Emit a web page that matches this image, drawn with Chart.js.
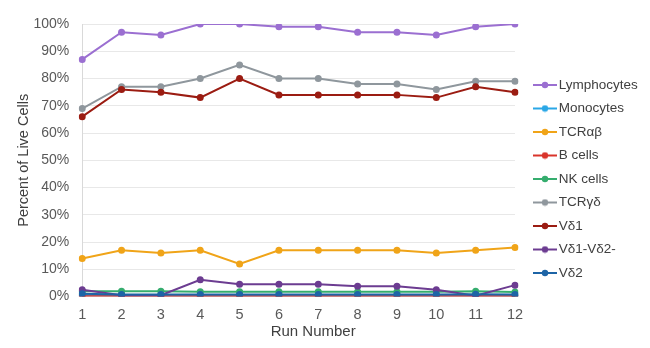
<!DOCTYPE html>
<html>
<head>
<meta charset="utf-8">
<script src="https://cdn.jsdelivr.net/npm/chart.js@4/dist/chart.umd.min.js"></script>
<style>
html,body{margin:0;padding:0;background:#fff;}
#wrap{width:650px;height:348px;position:relative;}
</style>
</head>
<body>
<div id="wrap"><canvas id="c" width="650" height="348"></canvas></div>
<script>
const runs = ['1','2','3','4','5','6','7','8','9','10','11','12'];
const lymphocytes = [87, 97, 96, 100, 100, 99, 99, 97, 97, 96, 99, 100];
const monocytes   = [0.6, 0.5, 0.5, 0.5, 0.5, 0.5, 0.5, 0.5, 0.5, 0.5, 0.5, 0.5];
const tcrAB       = [14, 17, 16, 17, 12, 17, 17, 17, 17, 16, 17, 18];
const bCells      = [0.1, 0.1, 0.1, 0.1, 0.1, 0.1, 0.1, 0.1, 0.1, 0.1, 0.1, 0.1];
const nkCells     = [2.0, 2.0, 2.0, 1.8, 1.8, 1.8, 1.8, 1.8, 1.8, 1.8, 2.0, 1.7];
const tcrGD       = [69, 77, 77, 80, 85, 80, 80, 78, 78, 76, 79, 79];
const vd1         = [66, 76, 75, 73, 80, 74, 74, 74, 74, 73, 77, 75];
const vd1vd2neg   = [2.5, 0.5, 0.5, 6.2, 4.5, 4.5, 4.5, 3.8, 3.8, 2.5, 0.3, 4.2];
const vd2         = [1.0, 0.8, 0.8, 0.8, 0.8, 0.8, 0.8, 0.8, 0.8, 0.8, 0.9, 0.8];
const yTicks = [0,10,20,30,40,50,60,70,80,90,100];

const seriesNames = ['Lymphocytes','Monocytes','TCRαβ','B cells','NK cells','TCRγδ','Vδ1','Vδ1-Vδ2-','Vδ2'];
const seriesData  = [lymphocytes, monocytes, tcrAB, bCells, nkCells, tcrGD, vd1, vd1vd2neg, vd2];
const colors = ['#9b6fd1','#2aa7e6','#f0a418','#d9342b','#35ad6e','#8f979d','#9b1c12','#6c3c91','#1d64a6'];

function legendIcon(color){
  const cv = document.createElement('canvas');
  cv.width = 24; cv.height = 8;
  const g = cv.getContext('2d');
  g.strokeStyle = color; g.lineWidth = 2;
  g.beginPath(); g.moveTo(0,4); g.lineTo(24,4); g.stroke();
  g.fillStyle = color;
  g.beginPath(); g.arc(12,4,3.2,0,Math.PI*2); g.fill();
  return cv;
}
const icons = colors.map(legendIcon);

const datasets = seriesNames.map((n,i)=>({
  label: n,
  data: seriesData[i],
  borderColor: colors[i],
  backgroundColor: colors[i],
  borderWidth: 2,
  pointRadius: 3.5,
  pointHoverRadius: 3.5,
  pointBorderWidth: 0,
  tension: 0,
  order: -i
}));

const FONT = "'Liberation Sans', Arial, sans-serif";

const legendFix = {
  id: 'legendFix',
  afterInit(chart){
    const lg = chart.legend;
    const f = lg.fit;
    lg.fit = function(){ f.call(this); if (!this.isHorizontal()) this.width = 135; };
  },
  afterLayout(chart){
    const lg = chart.legend;
    lg.left = 528; lg.right = 650;
    lg.top -= 3.5; lg.bottom -= 3.5;
  }
};

new Chart(document.getElementById('c'), {
  type: 'line',
  data: { labels: runs, datasets },
  plugins: [legendFix],
  options: {
    responsive: false,
    animation: false,
    layout: { padding: { left: 15, right: 0, top: 24, bottom: 7 } },
    plugins: {
      tooltip: { enabled: false },
      legend: {
        position: 'right',
        labels: {
          font: { family: FONT, size: 13.5 },
          color: '#404040',
          usePointStyle: true,
          pointStyleWidth: 14,
          boxHeight: 8,
          padding: 10,
          generateLabels: (chart) => chart.data.datasets.map((d,i)=>({
            text: d.label,
            fillStyle: d.borderColor,
            strokeStyle: d.borderColor,
            fontColor: '#404040',
            lineWidth: 0,
            pointStyle: icons[i],
            hidden: false,
            datasetIndex: i
          }))
        }
      }
    },
    scales: {
      x: {
        offset: false,
        grid: { display: false, drawTicks: false },
        border: { color: '#d9d9d9' },
        ticks: { font: { family: FONT, size: 14.5 }, color: '#595959', padding: 10 },
        title: { display: true, text: '\u00a0\u00a0\u00a0\u00a0\u00a0\u00a0\u00a0Run Number', font: { family: FONT, size: 15 }, color: '#404040', padding: { top: -11, bottom: 0 } }
      },
      y: {
        min: 0, max: 100,
        afterBuildTicks: (ax) => { ax.ticks = yTicks.map(v=>({value:v})); },
        grid: { color: '#e8e8e8', drawTicks: false },
        border: { display: true, color: '#d9d9d9' },
        ticks: { font: { family: FONT, size: 14 }, color: '#595959', padding: 13, callback: v => v + '%' },
        title: { display: true, text: 'Percent of Live Cells', font: { family: FONT, size: 14.5 }, color: '#404040', padding: { top: 0, bottom: -12 } }
      }
    }
  }
});
</script>
</body>
</html>
